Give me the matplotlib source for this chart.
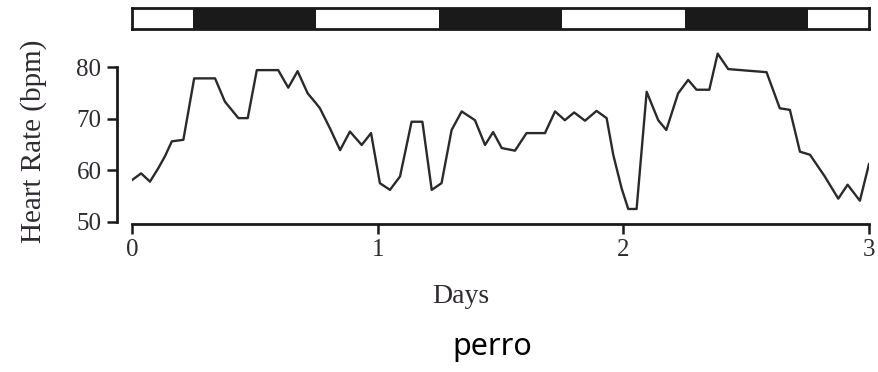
import numpy as np
import matplotlib
matplotlib.use("Agg")
import matplotlib.pyplot as plt
from matplotlib.patches import Rectangle

# heart rate trace (days, bpm)
days = [0.0, 0.037, 0.073, 0.107, 0.134, 0.162, 0.209, 0.253, 0.338, 0.378,
        0.433, 0.471, 0.508, 0.595, 0.636, 0.674, 0.715, 0.745, 0.765, 0.806,
        0.847, 0.887, 0.935, 0.973, 1.009, 1.050, 1.091, 1.138, 1.182, 1.220,
        1.260, 1.301, 1.342, 1.396, 1.437, 1.470, 1.505, 1.559, 1.606, 1.681,
        1.722, 1.762, 1.800, 1.844, 1.891, 1.932, 1.959, 1.993, 2.020, 2.054,
        2.095, 2.142, 2.175, 2.223, 2.264, 2.298, 2.350, 2.384, 2.427, 2.583,
        2.637, 2.678, 2.719, 2.760, 2.820, 2.875, 2.913, 2.963, 3.0]
bpm = [58.1, 59.4, 57.8, 60.4, 62.7, 65.6, 65.9, 77.8, 77.8, 73.3,
       70.1, 70.1, 79.4, 79.4, 76.0, 79.2, 74.9, 73.2, 72.0, 68.1,
       63.9, 67.5, 64.9, 67.2, 57.5, 56.2, 58.8, 69.4, 69.4, 56.2,
       57.5, 67.8, 71.4, 69.7, 64.9, 67.4, 64.3, 63.8, 67.2, 67.2,
       71.4, 69.7, 71.2, 69.6, 71.5, 70.1, 63.0, 56.5, 52.5, 52.5,
       75.2, 69.7, 67.8, 74.9, 77.5, 75.6, 75.6, 82.6, 79.6, 79.0,
       72.0, 71.7, 63.6, 63.0, 58.8, 54.5, 57.2, 54.1, 61.2]

# dark phases (start, end) in days
dark = [(0.25, 0.75), (1.25, 1.75), (2.25, 2.75)]

xticks = [0, 1, 2, 3]
yticks = [50, 60, 70, 80]

serif = "Liberation Serif"
tcol = "#2e2a30"

fig = plt.figure(figsize=(8.79, 3.72), dpi=100)

# light/dark bar on top
axb = fig.add_axes([0.1502, 0.922, 0.8384, 0.0565])
axb.set_xlim(0, 3)
axb.set_ylim(0, 1)
for s, e in dark:
    axb.add_patch(Rectangle((s, 0), e - s, 1, color="#1a1a1a", lw=0))
axb.set_xticks([])
axb.set_yticks([])
for sp in axb.spines.values():
    sp.set_linewidth(2.0)
    sp.set_color("#1a1a1a")

ax = fig.add_axes([0.1502, 0.398, 0.8384, 0.4704])
ax.plot(days, bpm, color="#2a2a2a", lw=1.7)
ax.set_xlim(0, 3)
ax.set_ylim(49.6, 83.5)
ax.spines["top"].set_visible(False)
ax.spines["right"].set_visible(False)
ax.spines["left"].set_position(("outward", 11))
ax.spines["left"].set_bounds(50, 80)
for sp in ("left", "bottom"):
    ax.spines[sp].set_linewidth(2.0)
    ax.spines[sp].set_color("#1a1a1a")
ax.set_xticks(xticks)
ax.set_yticks(yticks)
ax.tick_params(direction="out", length=7, width=1.8, color="#1a1a1a",
               labelsize=18, labelcolor=tcol, pad=4)
for lab in ax.get_xticklabels() + ax.get_yticklabels():
    lab.set_fontfamily(serif)

fig.text(0.038, 0.62, "Heart Rate (bpm)", rotation=90, ha="center", va="center",
         fontsize=21, family=serif, color=tcol)
fig.text(0.524, 0.203, "Days", ha="center", va="center",
         fontsize=20, family=serif, color=tcol)
fig.text(0.56, 0.066, "perro", ha="center", va="center",
         fontsize=22, family="Noto Sans", color="black")

fig.savefig("out.png", dpi=100)
